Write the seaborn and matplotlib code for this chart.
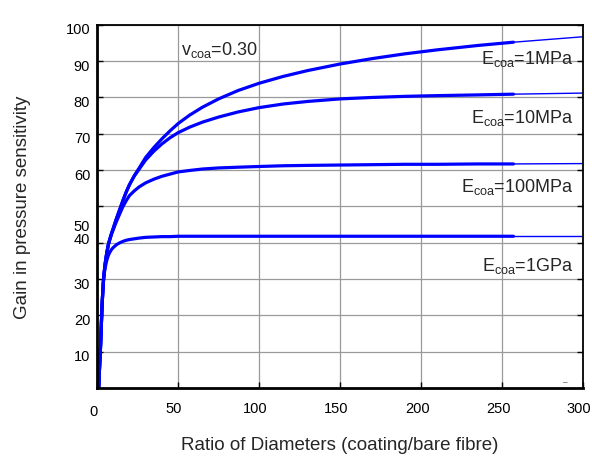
import matplotlib
matplotlib.use('Agg')
import matplotlib.pyplot as plt
import matplotlib.transforms as mtransforms
import seaborn as sns
import pandas as pd

# ratio of diameters (coating / bare fibre), thick part of the curves
ratio = [1, 1.25, 1.5, 1.75, 2, 2.25, 2.5, 2.75, 3, 3.5, 4, 4.5, 5, 6, 7, 8, 9,
         10, 11, 12, 14, 16, 18, 20, 23, 26, 30, 35, 40, 45, 50, 57, 65, 75, 87,
         100, 115, 130, 150, 170, 190, 210, 235, 257]
# thin continuation to the right edge
ratio_ext = [257, 300]

# common steep start (ratio 1 .. 4)
gain_start = [0, 3, 5.5, 8, 10, 13, 16, 19, 22, 26.5, 30]

gain_1mpa = gain_start + [32.3, 34.3, 37.3, 39.6, 41.2, 42.7, 44, 45.4, 46.7,
                          49.2, 51.7, 54, 56, 58.5, 60.6, 63.5, 66.2, 68.6, 70.8,
                          72.8, 75.1, 77.3, 79.6, 81.9, 83.9, 85.8, 87.4, 89.2,
                          90.7, 92, 93.1, 94.3, 95.2]
gain_10mpa = gain_start + [32.3, 34.3, 37.3, 39.6, 41.2, 42.7, 44, 45.4, 46.7,
                           49.2, 51.7, 54, 56, 58.4, 60.3, 62.8, 65.2, 67.2, 68.9,
                           70.3, 71.8, 73.2, 74.6, 76, 77.2, 78.2, 78.9, 79.6, 80,
                           80.3, 80.5, 80.7, 80.9]
gain_100mpa = gain_start + [32.3, 34.3, 37.3, 39.6, 41.1, 42.5, 43.6, 44.8, 45.9,
                            48, 50, 51.6, 53, 54.3, 55.4, 56.5, 57.5, 58.3, 58.9,
                            59.5, 59.9, 60.3, 60.6, 60.8, 61, 61.2, 61.3, 61.4,
                            61.5, 61.6, 61.6, 61.7, 61.7]
gain_1gpa = gain_start + [31.8, 33.2, 35.2, 36.6, 37.5, 38.2, 38.7, 39.1, 39.5,
                          40, 40.4, 40.7, 40.9, 41.1, 41.3, 41.5, 41.6, 41.7, 41.7,
                          41.8, 41.8, 41.8, 41.8, 41.8, 41.8, 41.8, 41.8, 41.8,
                          41.8, 41.8, 41.8, 41.8, 41.8]
gain_ext = {'1MPa': [95.2, 96.7], '10MPa': [80.9, 81.2],
            '100MPa': [61.7, 61.8], '1GPa': [41.8, 41.8]}

labels = {'1MPa': (294, 90.8), '10MPa': (294, 74.6),
          '100MPa': (294, 55.6), '1GPa': (294, 33.9)}

xticks = [0, 50, 100, 150, 200, 250, 300]
yticks = [10, 20, 30, 40, 50, 60, 70, 80, 90, 100]


def main():
  sns.set_style('white')
  plt.rcParams['font.family'] = ['Liberation Sans', 'DejaVu Sans']
  plt.rcParams['mathtext.fontset'] = 'custom'
  plt.rcParams['mathtext.rm'] = 'Liberation Sans'

  fig = plt.figure(figsize=(5.92, 4.6), dpi=100)
  ax = fig.add_axes([0.164, 0.154, 0.821, 0.79])

  curves = {'1MPa': gain_1mpa, '10MPa': gain_10mpa,
            '100MPa': gain_100mpa, '1GPa': gain_1gpa}
  for name, vals in curves.items():
    df = pd.DataFrame({'ratio': ratio, 'gain': vals})
    sns.lineplot(ax=ax, data=df, x='ratio', y='gain', color='#0000ff', lw=2.3)
    ext = pd.DataFrame({'ratio': ratio_ext, 'gain': gain_ext[name]})
    sns.lineplot(ax=ax, data=ext, x='ratio', y='gain', color='#0000ff', lw=1.0)
    lx, ly = labels[name]
    ax.text(lx, ly, r'E$_{\rm coa}$=' + name, ha='right', va='center', fontsize=13)

  ax.text(52, 93.3, r'v$_{\rm coa}$=0.30', ha='left', va='center', fontsize=13)
  # small stray mark near the bottom right corner
  ax.text(289, 1.8, '–', ha='center', va='center', fontsize=6)

  ax.set_xlim(0, 300)
  ax.set_ylim(0, 100)
  ax.set_xticks(xticks)
  ax.set_yticks(yticks)
  ax.grid(True, color='#9a9a9a', lw=0.9)
  ax.tick_params(direction='in', length=4, width=1, colors='black', labelsize=10.5,
                 left=True, right=True, bottom=True, top=False, pad=9)
  ax.tick_params(axis='y', pad=5)
  for sp in ax.spines.values():
    sp.set_color('black')
    sp.set_linewidth(1.3)
  ax.spines['left'].set_linewidth(2)
  ax.spines['bottom'].set_linewidth(2)

  # shift tick labels like the original
  for lab, tv in zip(ax.get_yticklabels(), yticks):
    dy = -3
    if tv == 50:
      dy = -18
    elif tv == 40:
      dy = 5
    off = mtransforms.ScaledTranslation(0, dy / 100, fig.dpi_scale_trans)
    lab.set_transform(lab.get_transform() + off)
  for lab, tv in zip(ax.get_xticklabels(), xticks):
    dy = -3 if tv == 0 else 0
    off = mtransforms.ScaledTranslation(-4 / 100, dy / 100, fig.dpi_scale_trans)
    lab.set_transform(lab.get_transform() + off)

  ax.set_xlabel('Ratio of Diameters (coating/bare fibre)', fontsize=13.5, labelpad=13)
  ax.set_ylabel('Gain in pressure sensitivity', fontsize=13.5, labelpad=25)

  fig.savefig('out.png', dpi=100)


if __name__ == '__main__':
  main()
